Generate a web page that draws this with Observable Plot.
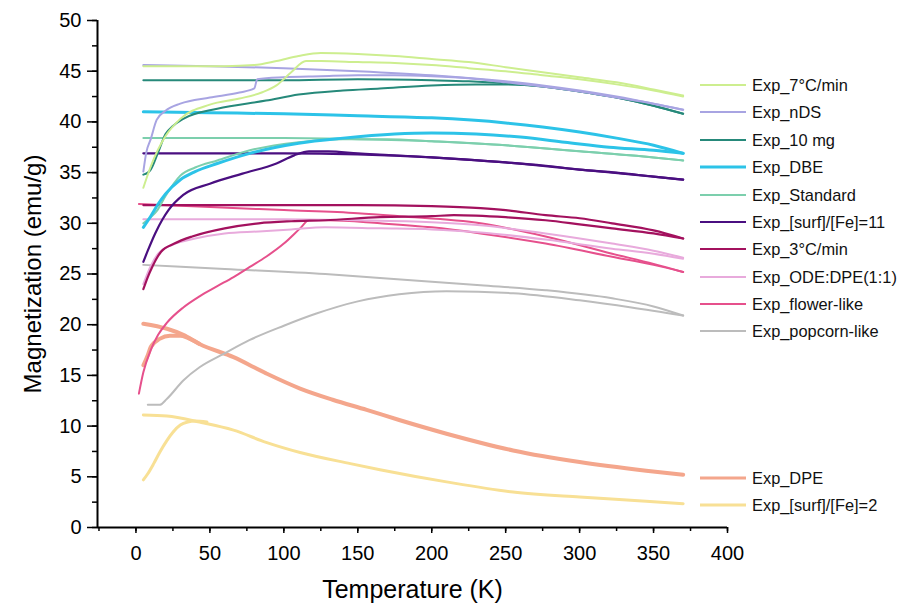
<!DOCTYPE html>
<html><head><meta charset="utf-8">
<script src="https://cdn.jsdelivr.net/npm/d3@7"></script>
<script src="https://cdn.jsdelivr.net/npm/@observablehq/plot@0.6"></script>
<style>
body{margin:0;background:#fff;}
#wrap{position:relative;width:901px;height:605px;font-family:"Liberation Sans",Arial,sans-serif;}
#legend{position:absolute;left:0;top:0;}
</style></head><body><div id="wrap"></div>
<script>
// ---- data ----
const seriesNames = ["Exp_7°C/min","Exp_nDS","Exp_10 mg","Exp_DBE","Exp_Standard","Exp_[surf]/[Fe]=11",
  "Exp_3°C/min","Exp_ODE:DPE(1:1)","Exp_flower-like","Exp_popcorn-like","Exp_DPE","Exp_[surf]/[Fe]=2"];
const xTicks = [0,50,100,150,200,250,300,350,400];
const yTicks = [0,5,10,15,20,25,30,35,40,45,50];
const xLabel = "Temperature (K)";
const yLabel = "Magnetization (emu/g)";

// each series: field-cooled (upper) and zero-field-cooled (lower) branch, [T (K), M (emu/g)]
const fc7 = [[5,45.5],[30,45.5],[60,45.5],[80,45.6],[95,46.0],[110,46.5],[125,46.8],[150,46.7],[175,46.5],[200,46.2],[225,45.9],[250,45.4],[275,44.9],[300,44.4],[325,43.9],[350,43.2],[370,42.6]];
const zfc7 = [[5,33.5],[10,35.6],[20,38.6],[30,40.3],[50,41.7],[70,42.3],[85,42.9],[95,43.6],[105,44.9],[115,46.0],[125,46.0],[150,45.9],[175,45.8],[200,45.6],[225,45.3],[250,45.0],[275,44.6],[300,44.2],[325,43.7],[350,43.1],[370,42.5]];
const fcNDS = [[5,45.6],[50,45.5],[100,45.3],[150,45.0],[200,44.6],[250,44.0],[275,43.6],[300,43.1],[325,42.5],[350,41.8],[370,41.2]];
const zfcNDS = [[5,35.1],[7,37.0],[10,38.3],[14,40.2],[20,41.1],[30,41.8],[50,42.4],[70,42.9],[80,43.3],[82,44.2],[100,44.4],[125,44.5],[150,44.6],[175,44.6],[200,44.5],[225,44.3],[250,43.9],[275,43.5],[300,43.0],[325,42.4],[350,41.8],[370,41.2]];
const fc10mg = [[5,44.1],[50,44.1],[100,44.1],[150,44.2],[200,44.1],[225,44.0],[250,43.8],[275,43.5],[300,43.0],[325,42.4],[350,41.6],[370,40.8]];
const zfc10mg = [[5,34.8],[8,35.0],[10,35.3],[15,37.0],[20,38.8],[25,39.6],[32,40.3],[55,41.3],[88,42.1],[110,42.7],[140,43.1],[165,43.3],[200,43.6],[230,43.7],[250,43.7],[275,43.5],[300,43.0],[325,42.4],[350,41.6],[370,40.8]];
const fcDBE = [[5,41.0],[50,40.9],[100,40.8],[150,40.6],[200,40.4],[250,39.9],[275,39.5],[300,39.0],[325,38.4],[350,37.7],[370,36.9]];
const zfcDBE = [[5,29.6],[10,30.7],[15,31.9],[20,32.9],[30,34.3],[40,35.1],[55,35.9],[77,36.9],[110,37.9],[140,38.4],[175,38.8],[200,38.9],[230,38.8],[260,38.5],[290,38.0],[320,37.5],[350,37.2],[370,36.9]];
const fcStd = [[5,38.4],[50,38.4],[100,38.4],[150,38.3],[200,38.1],[250,37.7],[275,37.4],[300,37.1],[325,36.8],[350,36.5],[370,36.2]];
const zfcStd = [[5,30.0],[10,30.6],[14,31.2],[20,32.7],[30,34.7],[40,35.5],[55,36.2],[77,37.2],[110,38.0],[140,38.3],[170,38.3],[200,38.1],[250,37.7],[300,37.1],[350,36.5],[370,36.2]];
const fcS11 = [[5,36.9],[50,36.9],[100,36.9],[150,36.8],[200,36.5],[250,36.0],[275,35.7],[300,35.3],[325,35.0],[350,34.6],[370,34.3]];
const zfcS11 = [[5,26.2],[8,27.3],[13,29.0],[18,30.4],[22,31.3],[32,32.8],[50,33.9],[72,34.9],[95,35.9],[107,36.7],[117,37.1],[130,37.1],[150,36.9],[200,36.5],[250,36.0],[300,35.3],[350,34.6],[370,34.3]];
const fc3 = [[5,31.8],[50,31.8],[100,31.8],[150,31.8],[200,31.7],[233,31.5],[250,31.3],[277,30.8],[300,30.5],[322,30.0],[350,29.3],[370,28.5]];
const zfc3 = [[5,23.5],[8,24.7],[11,25.7],[17,27.2],[26,28.0],[38,28.7],[60,29.5],[83,30.0],[105,30.2],[128,30.3],[165,30.6],[200,30.7],[215,30.8],[250,30.6],[277,30.3],[300,29.9],[322,29.5],[350,29.0],[370,28.5]];
const fcODE = [[5,30.4],[50,30.4],[100,30.4],[150,30.3],[200,30.1],[233,29.8],[277,29.0],[322,28.0],[350,27.3],[370,26.6]];
const zfcODE = [[5,24.0],[10,25.8],[15,27.0],[25,27.9],[40,28.5],[60,29.0],[83,29.2],[105,29.4],[128,29.6],[165,29.5],[200,29.4],[233,29.1],[277,28.4],[322,27.5],[350,27.0],[370,26.5]];
const fcFlower = [[2,31.9],[50,31.6],[100,31.3],[150,31.0],[178,30.7],[233,30.0],[277,28.7],[322,27.0],[350,26.0],[370,25.2]];
const zfcFlower = [[2,13.2],[5,15.3],[10,17.5],[15,19.0],[21,20.2],[32,21.7],[43,22.8],[55,23.8],[66,24.7],[77,25.7],[88,26.7],[100,28.0],[111,29.5],[117,30.3],[130,30.3],[165,30.0],[200,29.6],[233,29.0],[277,28.0],[322,26.7],[350,25.9],[370,25.2]];
const fcPop = [[5,25.9],[60,25.5],[128,25.0],[165,24.6],[233,23.9],[277,23.4],[322,22.6],[350,21.8],[370,20.9]];
const zfcPop = [[8,12.1],[16,12.1],[21,12.7],[32,14.5],[43,15.8],[59,17.1],[77,18.5],[100,19.9],[122,21.1],[150,22.3],[178,23.0],[210,23.3],[255,23.1],[300,22.4],[335,21.7],[370,20.9]];
const fcDPE = [[5,20.1],[21,19.6],[32,19.0],[43,18.1],[66,16.8],[88,15.2],[111,13.7],[133,12.6],[156,11.6],[178,10.6],[210,9.25],[255,7.6],[300,6.45],[345,5.6],[370,5.2]];
const zfcDPE = [[5,16.0],[8,17.0],[10,17.8],[16,18.6],[23,18.9],[30,18.9],[35,18.7],[43,18.1]];
const fcS2 = [[5,11.1],[21,11.0],[43,10.4],[66,9.6],[88,8.4],[111,7.4],[145,6.3],[165,5.7],[210,4.5],[255,3.5],[300,3.0],[345,2.6],[370,2.35]];
const zfcS2 = [[5,4.7],[8,5.3],[12,6.3],[16,7.4],[21,8.6],[25,9.4],[30,10.1],[35,10.4],[40,10.5],[48,10.4]];

const branches = [[fc7,zfc7],[fcNDS,zfcNDS],[fc10mg,zfc10mg],[fcDBE,zfcDBE],[fcStd,zfcStd],[fcS11,zfcS11],
  [fc3,zfc3],[fcODE,zfcODE],[fcFlower,zfcFlower],[fcPop,zfcPop],[fcDPE,zfcDPE],[fcS2,zfcS2]];

// ---- styles ----
const seriesColors = ["#cdee8f","#a8a4e2","#26897a","#2cc3e8","#7ccfad","#4a0f80",
  "#a3115e","#e8aadc","#e6508c","#bcbcbc","#f4a68c","#f8e095"];
const seriesWidths = [2,2,2,3,2,2.2,2.2,2,2,2,4,3];
const legendRowY = [85,112,140,167,195,222,249,277,304,331,478,505];

const lineMarks = [];
branches.forEach((pair, i) => {
  [...pair].reverse().forEach(pts => {
    lineMarks.push(Plot.line(pts, {x: d => d[0], y: d => d[1], stroke: seriesColors[i],
      strokeWidth: seriesWidths[i], curve: "monotone-x", strokeLinejoin: "round"}));
  });
});

const yMinor = d3.range(0, 50.01, 2.5);
const xMinor = d3.range(-25, 400.01, 25);

const chart = Plot.plot({
  width: 901, height: 605,
  marginLeft: 97, marginRight: 174, marginTop: 20, marginBottom: 78,
  style: {fontFamily: "'Liberation Sans', Arial, sans-serif", background: "#fff", color: "#000"},
  x: {domain: [-26, 400]},
  y: {domain: [0, 50]},
  marks: [
    ...lineMarks.reverse(),
    Plot.axisY(yMinor, {tickSize: 5, text: null, label: null, strokeWidth: 1.5}),
    Plot.axisY(yTicks, {tickSize: 10, tickPadding: 6, fontSize: 20, label: null, strokeWidth: 1.5}),
    Plot.axisX(xMinor, {tickSize: 4, text: null, label: null, strokeWidth: 1.5}),
    Plot.axisX(xTicks, {tickSize: 6, tickPadding: 12, fontSize: 20, label: null, strokeWidth: 1.5}),
    Plot.ruleX([-26], {stroke: "#000", strokeWidth: 2}),
    Plot.ruleY([0], {stroke: "#000", strokeWidth: 2}),
    Plot.text([xLabel], {frameAnchor: "bottom", lineAnchor: "middle", textAnchor: "middle", dy: 62, fontSize: 25}),
    Plot.text([yLabel], {frameAnchor: "left", lineAnchor: "middle", textAnchor: "middle", rotate: -90, dx: -64, fontSize: 24})
  ]
});
const wrap = document.getElementById("wrap");
wrap.appendChild(chart);

// legend overlay
const leg = d3.select(wrap).append("svg").attr("id", "legend").attr("width", 901).attr("height", 605);
seriesNames.forEach((name, i) => {
  const g = leg.append("g").attr("transform", `translate(0,${legendRowY[i]})`);
  g.append("line").attr("x1", 700).attr("x2", 746).attr("y1", 0).attr("y2", 0)
    .attr("stroke", seriesColors[i]).attr("stroke-width", Math.min(seriesWidths[i], 3));
  g.append("text").attr("x", 752).attr("y", 0).attr("dy", "0.35em")
    .attr("font-size", 16.4).attr("font-family", "'Liberation Sans', Arial, sans-serif").attr("fill", "#111").text(name);
});
</script></body></html>
